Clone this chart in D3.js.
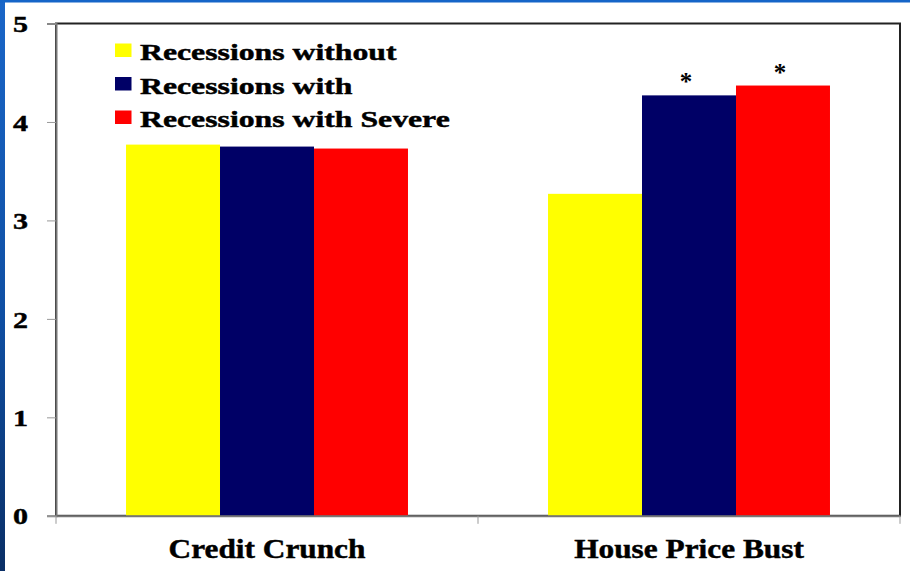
<!DOCTYPE html>
<html><head><meta charset="utf-8">
<script src="https://cdn.jsdelivr.net/npm/d3@7"></script>
<style>html,body{margin:0;padding:0;background:#fff;}svg{display:block;}</style>
</head><body>
<svg id="chart" width="910" height="571"></svg>
<script>
const categories = ["Credit Crunch", "House Price Bust"];
const seriesNames = ["Recessions without", "Recessions with", "Recessions with Severe"];
const seriesColors = ["#FFFF00", "#000066", "#FF0000"];
const creditCrunch = [3.77, 3.75, 3.73];
const housePriceBust = [3.27, 4.27, 4.37];
const significant = [[false, false, false], [false, true, true]];
const yTicks = [0, 1, 2, 3, 4, 5];
const values = [creditCrunch, housePriceBust];

const svg = d3.select("#chart");
const W = 910, H = 571;
const m = {left: 56, right: 10, top: 23.5, bottom: 55};
const font = "'Liberation Serif','Times New Roman',serif";

// slide background edges
const defs = svg.append("defs");
const g1 = defs.append("linearGradient").attr("id","edge").attr("x1",0).attr("y1",0).attr("x2",0).attr("y2",1);
g1.append("stop").attr("offset","0%").attr("stop-color","#1a66c8");
g1.append("stop").attr("offset","55%").attr("stop-color","#0f4fa3");
g1.append("stop").attr("offset","100%").attr("stop-color","#0a2f66");
svg.append("rect").attr("x",0).attr("y",0).attr("width",W).attr("height",H).attr("fill","#fff");
svg.append("rect").attr("x",0).attr("y",0).attr("width",5).attr("height",H).attr("fill","url(#edge)");
svg.append("rect").attr("x",0).attr("y",0).attr("width",W).attr("height",2.5).attr("fill","#1565c8");

const x = d3.scaleBand().domain(categories).range([m.left, W - m.right]).paddingInner(0).paddingOuter(0);
const x1 = d3.scaleBand().domain(seriesNames).range([0, x.bandwidth()]).paddingOuter(0.745).paddingInner(0);
const y = d3.scaleLinear().domain([0, 5]).range([H - m.bottom - 0.2, m.top]);

function stretchText(sel, k){
  sel.each(function(){
    const len = this.getComputedTextLength();
    d3.select(this).attr("textLength", len * k).attr("lengthAdjust","spacingAndGlyphs");
  });
}
function heavy(sel){ sel.attr("stroke","#000").attr("stroke-width",0.45); }

// plot frame
svg.append("rect").attr("x", m.left).attr("y", m.top).attr("width", W - m.right - m.left).attr("height", y(0) - m.top)
  .attr("fill","none").attr("stroke","#222").attr("stroke-width",2);

// bars
const groups = svg.append("g").selectAll("g").data(categories).join("g")
  .attr("transform", d => `translate(${x(d)},0)`);
groups.selectAll("rect").data((d,i) => values[i].map((v,j) => ({s: seriesNames[j], v, c: seriesColors[j]})))
  .join("rect")
  .attr("x", d => x1(d.s)).attr("width", x1.bandwidth())
  .attr("y", d => y(d.v)).attr("height", d => y(0) - y(d.v))
  .attr("fill", d => d.c);

// significance asterisks
groups.selectAll("text.star").data((d,i) => values[i].map((v,j) => ({s: seriesNames[j], v, sig: significant[i][j]})).filter(d => d.sig))
  .join("text").attr("class","star")
  .attr("x", d => x1(d.s) + x1.bandwidth()/2 - 3)
  .attr("y", d => y(d.v) - 5)
  .attr("text-anchor","middle")
  .attr("font-family", font).attr("font-weight","bold").attr("font-size",25)
  .text("*");

// y axis
const yAxis = svg.append("g").attr("transform", `translate(${m.left},0)`)
  .call(d3.axisLeft(y).tickValues(yTicks).tickSize(9).tickFormat(d3.format("d")));
yAxis.select(".domain").attr("stroke","#777").attr("stroke-width",2);
yAxis.selectAll(".tick line").attr("stroke","#999").attr("stroke-width",1);
yAxis.selectAll(".tick text").attr("font-family", font).attr("font-weight","bold").attr("font-size",24)
  .attr("fill","#000").attr("text-anchor","start").attr("x", -43).attr("dy","0.34em")
  .call(heavy).call(stretchText, 1.25);

// x axis
const xAxis = svg.append("g").attr("transform", `translate(0,${y(0)})`)
  .call(d3.axisBottom(x).tickSize(0).tickPadding(0).tickFormat(""));
xAxis.select(".domain").attr("stroke","#777").attr("stroke-width",2);
const bounds = [m.left, W - m.right];
categories.forEach((c,i)=>{ if(i>0) bounds.push(x(c)); });
xAxis.selectAll("line.sep").data(bounds).join("line").attr("class","sep")
  .attr("x1", d => d).attr("x2", d => d).attr("y1", 0).attr("y2", 8)
  .attr("stroke","#999").attr("stroke-width",1);
svg.append("g").selectAll("text").data(categories).join("text")
  .attr("x", d => x(d) + x.bandwidth()/2).attr("y", 558)
  .attr("text-anchor","middle")
  .attr("font-family", font).attr("font-weight","bold").attr("font-size",27)
  .attr("fill","#000").text(d => d)
  .call(heavy).call(stretchText, 1.16);

// legend
const legend = svg.append("g").attr("transform","translate(115,43.5)");
const li = legend.selectAll("g").data(seriesNames).join("g")
  .attr("transform",(d,i)=>`translate(0,${i*33.5})`);
li.append("rect").attr("width",16.5).attr("height",13.5).attr("fill",(d,i)=>seriesColors[i]);
li.append("text").attr("x",25).attr("y",16.5)
  .attr("font-family", font).attr("font-weight","bold").attr("font-size",23)
  .attr("fill","#000").text(d=>d).call(heavy).call(stretchText, 1.38);
</script>
</body></html>
